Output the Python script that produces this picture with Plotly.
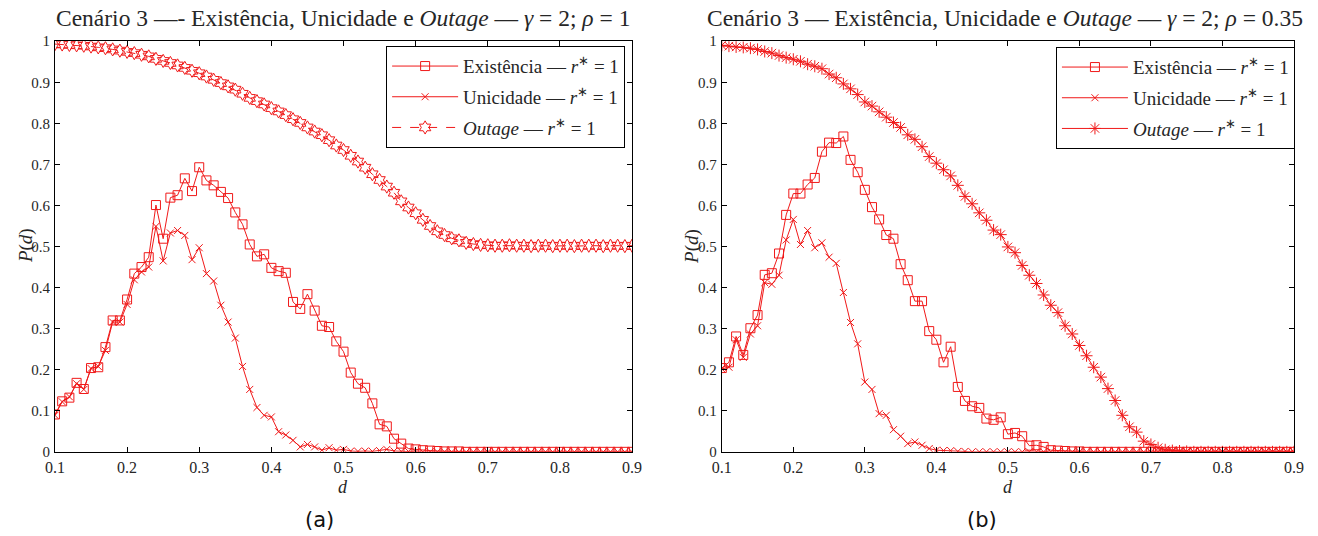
import plotly.graph_objects as go

# Distance grid d = 0.10 ... 0.90 (step 0.01)
d = [round(0.10 + 0.01 * i, 2) for i in range(81)]

# (a) gamma = 2, rho = 1
exist_a = [0.091, 0.123, 0.132, 0.168, 0.153, 0.204, 0.206, 0.255, 0.320, 0.320,
           0.371, 0.434, 0.450, 0.474, 0.601, 0.519, 0.619, 0.625, 0.666, 0.635,
           0.693, 0.661, 0.649, 0.633, 0.618, 0.583, 0.554, 0.505, 0.476, 0.481,
           0.448, 0.440, 0.436, 0.365, 0.348, 0.384, 0.344, 0.307, 0.304, 0.269,
           0.244, 0.193, 0.166, 0.156, 0.118, 0.067, 0.062, 0.032, 0.020, 0.008,
           0.006, 0.004, 0.003, 0.002, 0.001, 0.001, 0.001, 0.0, 0.0, 0.0,
           0.0, 0.0, 0.0, 0.0, 0.0, 0.0, 0.0, 0.0, 0.0, 0.0,
           0.0, 0.0, 0.0, 0.0, 0.0, 0.0, 0.0, 0.0, 0.0, 0.0, 0.0]
uniq_a = [0.089, 0.122, 0.134, 0.166, 0.152, 0.203, 0.208, 0.247, 0.316, 0.316,
          0.359, 0.419, 0.438, 0.450, 0.549, 0.465, 0.533, 0.539, 0.527, 0.468,
          0.497, 0.434, 0.416, 0.357, 0.316, 0.277, 0.208, 0.152, 0.108, 0.089,
          0.085, 0.049, 0.041, 0.028, 0.012, 0.018, 0.012, 0.004, 0.010, 0.004,
          0.006, 0.002, 0.001, 0.002, 0.001, 0.003, 0.006, 0.002, 0.001, 0.001,
          0.0, 0.0, 0.0, 0.0, 0.0, 0.0, 0.0, 0.0, 0.0, 0.0,
          0.0, 0.0, 0.0, 0.0, 0.0, 0.0, 0.0, 0.0, 0.0, 0.0,
          0.0, 0.0, 0.0, 0.0, 0.0, 0.0, 0.0, 0.0, 0.0, 0.0, 0.0]
outage_a = [0.993, 0.992, 0.991, 0.990, 0.989, 0.987, 0.985, 0.983, 0.980, 0.977,
            0.974, 0.971, 0.967, 0.963, 0.957, 0.952, 0.947, 0.941, 0.935, 0.928,
            0.922, 0.914, 0.906, 0.898, 0.890, 0.882, 0.872, 0.862, 0.854, 0.846,
            0.837, 0.829, 0.820, 0.810, 0.801, 0.790, 0.780, 0.771, 0.759, 0.746,
            0.735, 0.721, 0.707, 0.692, 0.676, 0.662, 0.646, 0.631, 0.610, 0.595,
            0.581, 0.565, 0.550, 0.537, 0.528, 0.520, 0.515, 0.509, 0.506, 0.504,
            0.503, 0.502, 0.502, 0.503, 0.502, 0.502, 0.501, 0.502, 0.502, 0.501,
            0.502, 0.502, 0.501, 0.502, 0.502, 0.502, 0.501, 0.502, 0.502, 0.501, 0.502]

# (b) gamma = 2, rho = 0.35
exist_b = [0.204, 0.218, 0.281, 0.236, 0.301, 0.333, 0.431, 0.435, 0.483, 0.577,
           0.629, 0.629, 0.651, 0.667, 0.731, 0.753, 0.752, 0.768, 0.711, 0.681,
           0.638, 0.596, 0.566, 0.528, 0.519, 0.457, 0.418, 0.367, 0.367, 0.294,
           0.273, 0.218, 0.256, 0.158, 0.124, 0.111, 0.107, 0.081, 0.078, 0.084,
           0.043, 0.046, 0.038, 0.015, 0.016, 0.012, 0.004, 0.003, 0.002, 0.001,
           0.001, 0.0, 0.0, 0.0, 0.0, 0.0, 0.0, 0.0, 0.0, 0.0,
           0.0, 0.0, 0.0, 0.0, 0.0, 0.0, 0.0, 0.0, 0.0, 0.0,
           0.0, 0.0, 0.0, 0.0, 0.0, 0.0, 0.0, 0.0, 0.0, 0.0, 0.0]
uniq_b = [0.202, 0.206, 0.273, 0.230, 0.287, 0.307, 0.412, 0.408, 0.430, 0.516,
          0.566, 0.505, 0.539, 0.497, 0.509, 0.474, 0.459, 0.388, 0.315, 0.263,
          0.170, 0.152, 0.093, 0.089, 0.054, 0.038, 0.020, 0.024, 0.016, 0.008,
          0.004, 0.003, 0.003, 0.001, 0.001, 0.0, 0.0, 0.0, 0.0, 0.0,
          0.0, 0.0, 0.0, 0.0, 0.0, 0.0, 0.0, 0.0, 0.0, 0.0,
          0.0, 0.0, 0.0, 0.0, 0.0, 0.0, 0.0, 0.0, 0.0, 0.0,
          0.0, 0.0, 0.0, 0.0, 0.0, 0.0, 0.0, 0.0, 0.0, 0.0,
          0.0, 0.0, 0.0, 0.0, 0.0, 0.0, 0.0, 0.0, 0.0, 0.0, 0.0]
outage_b = [0.990, 0.988, 0.986, 0.985, 0.983, 0.980, 0.975, 0.971, 0.965, 0.960,
            0.956, 0.951, 0.944, 0.939, 0.933, 0.920, 0.911, 0.896, 0.884, 0.870,
            0.852, 0.842, 0.828, 0.815, 0.802, 0.790, 0.772, 0.761, 0.743, 0.719,
            0.703, 0.687, 0.672, 0.649, 0.622, 0.604, 0.582, 0.564, 0.540, 0.529,
            0.499, 0.485, 0.454, 0.430, 0.410, 0.382, 0.357, 0.339, 0.307, 0.287,
            0.259, 0.234, 0.206, 0.182, 0.154, 0.125, 0.089, 0.061, 0.048, 0.026,
            0.018, 0.010, 0.005, 0.003, 0.002, 0.001, 0.0, 0.0, 0.0, 0.0,
            0.0, 0.0, 0.0, 0.0, 0.0, 0.0, 0.0, 0.0, 0.0, 0.0, 0.0]

x_ticks = [0.1, 0.2, 0.3, 0.4, 0.5, 0.6, 0.7, 0.8, 0.9]
y_ticks = [0, 0.1, 0.2, 0.3, 0.4, 0.5, 0.6, 0.7, 0.8, 0.9, 1]

RED = "rgb(240,25,25)"
SERIF = "Liberation Serif"
TXT = "#262626"

W, H = 1318, 536
# The page shows the figure inside an 8 px body margin, and the whole page
# (figure + margins) is fitted into the W x H window.
BODY_M = 8
SX, SY = W / (W + 2 * BODY_M), H / (H + 2 * BODY_M)

lbl_ex = "Existência — <i>r</i><sup>∗</sup> = 1"
lbl_un = "Unicidade — <i>r</i><sup>∗</sup> = 1"
lbl_out = "<i>Outage</i> — <i>r</i><sup>∗</sup> = 1"

fig = go.Figure()


def add_series(y, name, symbol, size, xa, ya, leg, group, dash="solid"):
    fig.add_trace(go.Scatter(
        x=d, y=y, name=name, mode="lines+markers",
        xaxis=xa, yaxis=ya, legend=leg, legendgroup=group,
        line=dict(color=RED, width=1, dash=dash),
        marker=dict(symbol=symbol, size=size, color=RED,
                    line=dict(color=RED, width=1)),
    ))


add_series(exist_a, lbl_ex, "square-open", 9, "x", "y", "legend", "a1")
add_series(uniq_a, lbl_un, "x-thin-open", 7, "x", "y", "legend", "a2")
add_series(outage_a, lbl_out, "hexagram-open", 10, "x", "y", "legend", "a3", dash="dash")

add_series(exist_b, lbl_ex, "square-open", 9, "x2", "y2", "legend2", "b1")
add_series(uniq_b, lbl_un, "x-thin-open", 7, "x2", "y2", "legend2", "b2")
add_series(outage_b, lbl_out, "asterisk-open", 10, "x2", "y2", "legend2", "b3")


def px_x(p):
    """On-screen pixel column -> paper fraction."""
    return (p / SX - BODY_M) / W


def px_y(p):
    """On-screen pixel row -> paper fraction."""
    return 1 - (p / SY - BODY_M) / H


axis_common = dict(
    showline=True, linecolor="black", linewidth=1, mirror="ticks",
    ticks="inside", ticklen=5, tickcolor="black", showgrid=False,
    zeroline=False,
)
xtick_font = dict(family=SERIF, size=16, color=TXT)
ytick_font = dict(family=SERIF, size=15, color=TXT)

legend_common = dict(
    xanchor="right", yanchor="top",
    bordercolor="black", borderwidth=1, bgcolor="white",
    font=dict(family=SERIF, size=19, color=TXT),
    tracegroupgap=3, itemwidth=66,
)

y_dom = [px_y(452), px_y(41)]
fig.update_layout(
    width=W, height=H, autosize=False,
    margin=dict(l=0, r=0, t=0, b=0),
    paper_bgcolor="white", plot_bgcolor="white",
    showlegend=True,
    xaxis=dict(domain=[px_x(53), px_x(632)], range=[0.1, 0.9], tickvals=x_ticks,
               anchor="y", ticklabelstandoff=1, tickfont=xtick_font, **axis_common),
    yaxis=dict(domain=y_dom, range=[0, 1], tickvals=y_ticks, anchor="x",
               ticklabelstandoff=1, tickfont=ytick_font, **axis_common),
    xaxis2=dict(domain=[px_x(722), px_x(1296)], range=[0.1, 0.9], tickvals=x_ticks,
                anchor="y2", ticklabelstandoff=1, tickfont=xtick_font, **axis_common),
    yaxis2=dict(domain=y_dom, range=[0, 1], tickvals=y_ticks, anchor="x2",
                ticklabelstandoff=1, tickfont=ytick_font, **axis_common),
    legend=dict(x=px_x(625), y=px_y(46), **legend_common),
    legend2=dict(x=px_x(1297), y=px_y(47), **legend_common),
)

titles = [
    (342, "Cenário 3 —- Existência, Unicidade e <i>Outage</i> — <i>γ</i> = 2; <i>ρ</i> = 1"),
    (1006, "Cenário 3 — Existência, Unicidade e <i>Outage</i> — <i>γ</i> = 2; <i>ρ</i> = 0.35"),
]
for cx, text in titles:
    fig.add_annotation(x=px_x(cx), y=px_y(18), xref="paper", yref="paper",
                       text=text, showarrow=False, xanchor="center", yanchor="middle",
                       font=dict(family=SERIF, size=23.5, color=TXT))

for cx in (342, 1009):
    fig.add_annotation(x=px_x(cx), y=px_y(487), xref="paper", yref="paper",
                       text="<i>d</i>", showarrow=False, xanchor="center", yanchor="middle",
                       font=dict(family=SERIF, size=18, color=TXT))

for cx in (24, 692):
    fig.add_annotation(x=px_x(cx), y=px_y(246), xref="paper", yref="paper",
                       text="<i>P</i>(<i>d</i>)", showarrow=False, textangle=-90,
                       xanchor="center", yanchor="middle",
                       font=dict(family=SERIF, size=19, color=TXT))

for cx, tag in ((318, "(a)"), (983, "(b)")):
    fig.add_annotation(x=px_x(cx), y=px_y(520), xref="paper", yref="paper",
                       text=tag, showarrow=False, xanchor="center", yanchor="middle",
                       font=dict(family="DejaVu Sans", size=21, color="#111111"))

fig.write_html("out.html", config={"responsive": False})
